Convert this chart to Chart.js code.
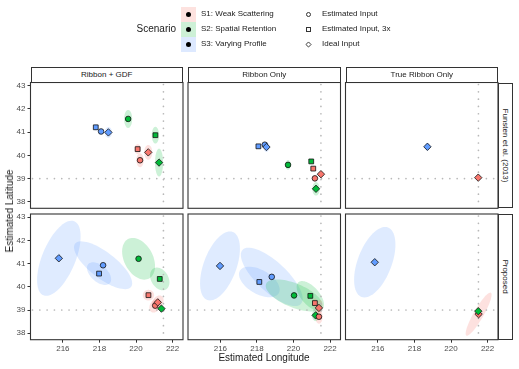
<!DOCTYPE html>
<html>
<head>
<meta charset="utf-8">
<script src="https://cdn.jsdelivr.net/npm/chart.js@4"></script>
<style>
  body { margin: 0; background: #fff; }
  #fig { position: relative; width: 519px; height: 369px; overflow: hidden;
         font-family: "Liberation Sans", Arial, sans-serif; color: #1a1a1a; }
  #fig canvas { position: absolute; left: 0; top: 0; }
  .strip { position: absolute; box-sizing: border-box; border: 1px solid #333; background: #fff;
           font-size: 8px; display: flex; align-items: center; justify-content: center; white-space: nowrap; }
  .strip.side span { transform: rotate(90deg); }
  .txt { position: absolute; white-space: nowrap; }
  .key { position: absolute; box-sizing: border-box; }
</style>
</head>
<body>
<div id="fig"></div>
<script>
const methods = ["Ribbon + GDF", "Ribbon Only", "True Ribbon Only"];
const studies = ["Funsten et al. (2013)", "Proposed"];
const scenarios = ["S1: Weak Scattering", "S2: Spatial Retention", "S3: Varying Profile"];
const inputs = ["Estimated Input", "Estimated Input, 3x", "Ideal Input"];
const lonTicks = [216, 218, 220, 222];
const latTicks = [38, 39, 40, 41, 42, 43];
const lonRange = [214.23, 222.57];
const latRange = [37.72, 43.14];
const ribbonCenter = [221.5, 39];

// scenario, input, lon, lat, ellipse half-width lon, half-height lat, correlation
const funstenGdf = [
  [2, 1, 217.80, 41.21, 0.14, 0.14, 0],
  [2, 0, 218.09, 41.03, 0.10, 0.10, 0],
  [2, 2, 218.49, 40.99, 0.20, 0.23, 0],
  [1, 0, 219.57, 41.57, 0.22, 0.39, 0],
  [1, 1, 221.06, 40.87, 0.20, 0.36, 0],
  [1, 2, 221.26, 39.69, 0.22, 0.60, 0],
  [0, 1, 220.09, 40.27, 0.18, 0.21, 0],
  [0, 0, 220.22, 39.79, 0.20, 0.30, 0],
  [0, 2, 220.67, 40.13, 0.22, 0.32, 0]
];
const funstenRibbon = [
  [2, 1, 218.08, 40.39, 0.08, 0.08, 0],
  [2, 0, 218.43, 40.46, 0.10, 0.12, 0],
  [2, 2, 218.52, 40.36, 0.16, 0.21, 0],
  [1, 0, 219.70, 39.59, 0.15, 0.21, 0],
  [1, 1, 220.97, 39.74, 0.08, 0.08, 0],
  [1, 2, 221.23, 38.56, 0.20, 0.29, 0],
  [0, 1, 221.08, 39.43, 0.06, 0.06, 0],
  [0, 0, 221.17, 39.01, 0.10, 0.10, 0],
  [0, 2, 221.50, 39.19, 0.10, 0.10, 0]
];
const funstenTrue = [
  [2, 2, 218.71, 40.37, 0.15, 0.17, 0],
  [0, 2, 221.49, 39.04, 0.06, 0.06, 0]
];
const proposedGdf = [
  [2, 2, 215.78, 41.23, 1.19, 1.62, 0.58],
  [2, 0, 218.20, 40.93, 1.59, 1.03, -0.75],
  [2, 1, 217.98, 40.57, 0.66, 0.49, -0.5],
  [1, 0, 220.14, 41.21, 0.90, 0.90, -0.35],
  [1, 1, 221.30, 40.34, 0.53, 0.49, -0.3],
  [1, 2, 221.39, 39.06, 0.05, 0.05, 0],
  [0, 1, 220.68, 39.64, 0.31, 0.23, 0],
  [0, 0, 221.05, 39.19, 0.32, 0.30, 0.3],
  [0, 2, 221.19, 39.33, 0.32, 0.30, 0.3]
];
const proposedRibbon = [
  [2, 2, 215.98, 40.90, 1.09, 1.49, 0.5],
  [2, 0, 218.81, 40.43, 1.69, 1.26, -0.75],
  [2, 1, 218.13, 40.21, 1.11, 0.66, -0.5],
  [1, 0, 220.03, 39.63, 1.55, 0.69, -0.6],
  [1, 1, 220.92, 39.61, 0.75, 0.64, -0.6],
  [1, 2, 221.21, 38.77, 0.20, 0.25, 0],
  [0, 1, 221.17, 39.30, 0.15, 0.20, 0],
  [0, 0, 221.39, 38.71, 0.20, 0.30, 0],
  [0, 2, 221.39, 39.09, 0.20, 0.35, 0.3]
];
const proposedTrue = [
  [2, 2, 215.83, 41.06, 1.13, 1.52, 0.5],
  [0, 2, 221.51, 38.82, 0.71, 0.93, 0.9],
  [1, 2, 221.49, 38.95, 0.05, 0.05, 0]
];

const colors = ["#F8766D", "#00BA38", "#619CFF"];
const fills = ["rgba(248,118,109,0.22)", "rgba(0,186,56,0.2)", "rgba(97,156,255,0.2)"];
const shapes = ["circle", "rect", "rectRot"];
const shapeRadius = [2.8, 3.4, 3.7];
const cols = [[30.5, 183], [188, 340.5], [345.5, 498]];
const rows = [[82.5, 208.3], [214, 339.7]];
const panels = [[funstenGdf, funstenRibbon, funstenTrue], [proposedGdf, proposedRibbon, proposedTrue]];

Chart.defaults.font.family = '"Liberation Sans", Arial, sans-serif';

const fig = document.getElementById("fig");

function addText(text, left, top, size, extra) {
  const d = document.createElement("div");
  d.className = "txt";
  d.textContent = text;
  d.style.left = left + "px";
  d.style.top = top + "px";
  d.style.fontSize = size + "px";
  if (extra) Object.assign(d.style, extra);
  fig.appendChild(d);
  return d;
}

function makeDecor(data) {
  return {
    id: "panelDecor",
    beforeDatasetsDraw(chart) {
      const { ctx, chartArea: a, scales: { x, y } } = chart;
      ctx.save();
      ctx.beginPath();
      ctx.rect(a.left, a.top, a.right - a.left, a.bottom - a.top);
      ctx.clip();
      data.forEach((r) => {
        const k = Math.sqrt(1 - r[6] * r[6]);
        ctx.beginPath();
        for (let i = 0; i <= 72; i++) {
          const t = (i / 72) * 2 * Math.PI;
          const px = x.getPixelForValue(r[2] + r[4] * Math.cos(t));
          const py = y.getPixelForValue(r[3] + r[5] * (r[6] * Math.cos(t) + k * Math.sin(t)));
          if (i) ctx.lineTo(px, py);
          else ctx.moveTo(px, py);
        }
        ctx.fillStyle = fills[r[0]];
        ctx.fill();
      });
      // dotted guides through the ribbon centre
      const gx = x.getPixelForValue(ribbonCenter[0]);
      const gy = y.getPixelForValue(ribbonCenter[1]);
      ctx.setLineDash([0.01, 7.3]);
      ctx.lineCap = "round";
      ctx.lineWidth = 1.7;
      ctx.strokeStyle = "#b8b8b8";
      ctx.beginPath();
      ctx.moveTo(gx, a.top + 2);
      ctx.lineTo(gx, a.bottom);
      ctx.moveTo(a.left + 2, gy);
      ctx.lineTo(a.right, gy);
      ctx.stroke();
      ctx.restore();
    },
    afterDraw(chart) {
      const { ctx, chartArea: a } = chart;
      ctx.save();
      ctx.strokeStyle = "#333";
      ctx.lineWidth = 1.1;
      ctx.strokeRect(a.left, a.top, a.right - a.left, a.bottom - a.top);
      ctx.restore();
    },
  };
}

const axisTicks = { color: "#4d4d4d", font: { size: 8 }, maxRotation: 0, autoSkip: false };
const axisGrid = { drawOnChartArea: false, drawTicks: true, tickLength: 3, color: "#333", tickColor: "#333" };

panels.forEach((panelRow, ri) => {
  panelRow.forEach((data, ci) => {
    const canvas = document.createElement("canvas");
    canvas.width = 519;
    canvas.height = 369;
    fig.appendChild(canvas);

    const showY = ci === 0;
    const showX = ri === 1;
    const yW = showY ? 30 : 0;
    const xH = showX ? 16 : 0;

    const datasets = data.map((r) => ({
      data: [{ x: r[2], y: r[3] }],
      pointStyle: shapes[r[1]],
      pointRadius: shapeRadius[r[1]],
      pointBackgroundColor: colors[r[0]],
      pointBorderColor: "#111",
      pointBorderWidth: 0.8,
    }));

    new Chart(canvas, {
      type: "scatter",
      data: { datasets: datasets.reverse() },
      options: {
        responsive: false,
        animation: false,
        events: [],
        layout: {
          padding: {
            left: cols[ci][0] - yW,
            right: 519 - cols[ci][1],
            top: rows[ri][0],
            bottom: 369 - rows[ri][1] - xH,
          },
        },
        plugins: { legend: { display: false }, tooltip: { enabled: false } },
        scales: {
          x: {
            type: "linear",
            min: lonRange[0],
            max: lonRange[1],
            display: showX,
            afterBuildTicks: (s) => { s.ticks = lonTicks.map((v) => ({ value: v })); },
            afterFit: (s) => { s.height = xH; },
            grid: axisGrid,
            border: { display: false },
            ticks: { ...axisTicks, padding: 1 },
          },
          y: {
            type: "linear",
            min: latRange[0],
            max: latRange[1],
            display: showY,
            afterBuildTicks: (s) => { s.ticks = latTicks.map((v) => ({ value: v })); },
            afterFit: (s) => { s.width = yW; },
            grid: axisGrid,
            border: { display: false },
            ticks: { ...axisTicks, padding: 2 },
          },
        },
      },
      plugins: [makeDecor(data)],
    });
  });
});

// facet strips
methods.forEach((m, ci) => {
  const s = document.createElement("div");
  s.className = "strip";
  s.style.left = cols[ci][0] + "px";
  s.style.top = "67px";
  s.style.width = cols[ci][1] - cols[ci][0] + "px";
  s.style.height = "15.5px";
  s.innerHTML = "<span></span>";
  s.firstChild.textContent = m;
  fig.appendChild(s);
});
studies.forEach((st, ri) => {
  const s = document.createElement("div");
  s.className = "strip side";
  s.style.left = "498px";
  s.style.top = rows[ri][0] + "px";
  s.style.width = "15px";
  s.style.height = rows[ri][1] - rows[ri][0] + "px";
  s.innerHTML = "<span></span>";
  s.firstChild.textContent = st;
  fig.appendChild(s);
});

// axis titles
addText("Estimated Longitude", 264, 352, 10, { transform: "translateX(-50%)", lineHeight: "12px" });
addText("Estimated Latitude", 9.5, 211, 10, { transform: "translate(-50%,-50%) rotate(-90deg)", lineHeight: "12px" });

// legend
addText("Scenario", 176, 23, 10, { transform: "translateX(-100%)", lineHeight: "12px" });
const keyFills = ["#fde2df", "#cdf0d6", "#dde9ff"];
scenarios.forEach((sc, i) => {
  const top = 6.5 + i * 15;
  const box = document.createElement("div");
  box.className = "key";
  Object.assign(box.style, { left: "181px", top: top + "px", width: "15px", height: "15px", background: keyFills[i] });
  fig.appendChild(box);
  const dot = document.createElement("div");
  dot.className = "key";
  Object.assign(dot.style, { left: "186px", top: top + 5 + "px", width: "5px", height: "5px", borderRadius: "50%", background: "#000" });
  fig.appendChild(dot);
  addText(sc, 201, top + 2, 8, { lineHeight: "10px" });
});
inputs.forEach((inp, i) => {
  const cy = 14 + i * 15;
  const mk = document.createElement("div");
  mk.className = "key";
  const st = { left: "305.5px", top: cy - 2.5 + "px", width: "5px", height: "5px", border: "1px solid #333" };
  if (i === 0) st.borderRadius = "50%";
  if (i === 2) st.transform = "rotate(45deg) scale(0.9)";
  Object.assign(mk.style, st);
  fig.appendChild(mk);
  addText(inp, 322, cy - 5, 8, { lineHeight: "10px" });
});
</script>
</body>
</html>
